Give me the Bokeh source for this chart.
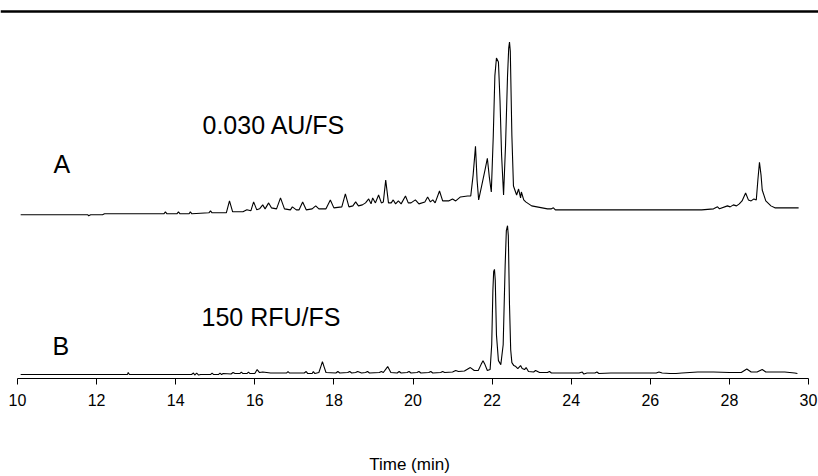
from bokeh.plotting import figure
from bokeh.models import Range1d, FixedTicker, Span, Label
from bokeh.embed import file_html
from bokeh.resources import INLINE

# ---------------- data ----------------
# Trace A: UV absorbance (relative response above trace baseline)
time_a = [10.08, 11.78, 11.80, 11.85, 12.15, 12.20, 13.70, 13.74, 13.78, 14.03, 14.07, 14.11,
          14.34, 14.37, 14.41, 14.84, 14.88, 14.92, 15.28, 15.36, 15.44, 15.70, 15.80, 15.90,
          15.97, 16.05, 16.12, 16.20, 16.26, 16.35, 16.42, 16.55, 16.65, 16.75, 16.90, 16.95,
          17.05, 17.12, 17.21, 17.30, 17.45, 17.54, 17.62, 17.80, 17.91, 18.00, 18.20, 18.29,
          18.38, 18.48, 18.55, 18.62, 18.72, 18.80, 18.88, 18.94, 18.98, 19.05, 19.13, 19.20,
          19.25, 19.31, 19.38, 19.45, 19.50, 19.56, 19.63, 19.70, 19.81, 19.88, 19.95, 20.06,
          20.15, 20.30, 20.37, 20.44, 20.50, 20.56, 20.67, 20.75, 20.90, 21.00, 21.08, 21.20,
          21.38, 21.46, 21.52, 21.58, 21.62, 21.66, 21.74, 21.82, 21.88, 21.93, 21.98, 22.03,
          22.07, 22.11, 22.16, 22.20, 22.24, 22.29, 22.34, 22.39, 22.42, 22.44, 22.46, 22.50,
          22.54, 22.62, 22.67, 22.72, 22.74, 22.80, 22.85, 23.00, 23.40, 23.50, 23.55, 23.60,
          27.30, 27.60, 27.70, 27.75, 27.95, 28.02, 28.10, 28.18, 28.25, 28.32, 28.41, 28.48,
          28.55, 28.62, 28.68, 28.72, 28.76, 28.80, 28.83, 28.92, 29.05, 29.15, 29.75]
signal_a = [0, 0, -1, 0, 0, 1, 1, 3, 1, 1, 3, 1,
            1, 3, 1, 2, 4, 2, 2, 14, 3, 3, 5, 4,
            13, 5, 6, 10, 6, 12, 7, 6, 17, 6, 5, 8,
            5, 5, 13, 5, 6, 9, 6, 6, 15, 7, 8, 21,
            8, 9, 13, 9, 10, 12, 16, 11, 17, 12, 20, 12,
            13, 35, 12, 12, 15, 11, 14, 11, 19, 12, 12, 15,
            11, 13, 18, 13, 15, 12, 24, 14, 14, 16, 14, 18,
            19, 19, 40, 69, 35, 15, 30, 45, 57, 38, 23, 80,
            140, 158, 154, 115, 60, 20, 70, 140, 168, 174, 165, 80,
            29, 20, 26, 17, 23, 15, 13, 9, 6, 6, 7, 5,
            5, 6, 8, 6, 9, 8, 10, 9, 11, 14, 22, 15,
            14, 16, 15, 35, 53, 40, 25, 14, 9, 7, 7]

# Trace B: fluorescence (relative response above trace baseline)
time_b = [10.08, 12.78, 12.80, 12.83, 14.40, 14.45, 14.48, 14.53, 14.58, 14.63, 14.88, 14.92,
          14.96, 15.08, 15.12, 15.16, 15.20, 15.40, 15.45, 15.50, 15.62, 15.66, 15.70, 15.80,
          15.84, 15.88, 16.00, 16.06, 16.12, 16.20, 16.30, 16.40, 16.60, 16.80, 16.84, 16.88,
          17.25, 17.30, 17.34, 17.45, 17.48, 17.52, 17.62, 17.67, 17.71, 17.75, 17.80, 18.05,
          18.10, 18.15, 18.35, 18.40, 18.45, 18.55, 18.60, 18.70, 18.80, 18.85, 18.90, 19.15,
          19.20, 19.25, 19.36, 19.44, 19.60, 19.65, 19.70, 19.85, 19.90, 19.95, 20.10, 20.15,
          20.20, 20.40, 20.45, 20.50, 20.70, 20.75, 20.80, 21.00, 21.08, 21.15, 21.30, 21.45,
          21.55, 21.65, 21.72, 21.77, 21.82, 21.88, 21.95, 21.99, 22.02, 22.04, 22.06, 22.08,
          22.11, 22.16, 22.22, 22.28, 22.33, 22.36, 22.39, 22.41, 22.44, 22.47, 22.50, 22.55,
          22.60, 22.65, 22.72, 22.76, 22.82, 22.86, 22.92, 23.05, 23.10, 23.20, 23.40, 23.45,
          23.50, 24.20, 24.28, 24.32, 24.40, 24.60, 24.65, 24.70, 25.00, 26.15, 26.22, 26.30,
          26.50, 26.65, 26.80, 27.20, 27.60, 28.00, 28.30, 28.44, 28.55, 28.70, 28.83, 28.92,
          29.40, 29.65, 29.72]
signal_b = [0, 0, 2, 0, 0, 1.5, -0.5, 1.5, -0.5, 0, 0, 1.5,
            0, 0, 1.5, 0, 1, 0.5, 2, 1, 1, 2.5, 1, 1,
            2.5, 1, 1, 5, 2, 2.5, 2, 1.5, 1.5, 1.5, 3, 1.5,
            1.5, 3, 1, 1, 3, 1, 2, 8, 13, 8, 2, 1.5,
            3, 1.5, 2, 3, 1.5, 2, 3, 1.5, 2, 3, 1.5, 2,
            3, 2, 8, 2, 1.5, 3, 1.5, 2, 3, 1.5, 2, 3,
            1.5, 2, 3, 1.5, 2, 3, 2, 2.5, 4, 3, 3.5, 7,
            4, 4, 10, 14, 10, 4, 5, 30, 85, 104, 106, 95,
            40, 14, 10, 30, 110, 145, 150, 140, 70, 25, 12, 9,
            8, 6, 9, 6, 5, 7, 3, 2.5, 4, 2, 2, 3,
            1.5, 1.5, 2.5, 0.5, 1.5, 1.5, 2.5, 1, 1.5, 1.5, 2.5, 1.5,
            1, 1, 1.5, 2.5, 2.5, 2, 2, 5.5, 2.5, 2.5, 5, 2.5,
            2.5, 1.5, 1]

x_ticks = [10, 12, 14, 16, 18, 20, 22, 24, 26, 28, 30]
label_a = "A"
scale_a = "0.030 AU/FS"
label_b = "B"
scale_b = "150 RFU/FS"
x_title = "Time (min)"

# ---------------- layout ----------------
W, H = 818, 476
FRAME_H = 381                 # axis line position (px from top)
X0, X1 = 9.5702, 30.2528      # visible time range (10 at px 17, 30 at px 808)
OFFSET_A = 165                # stacking offset of trace A
OFFSET_B = 4                  # stacking offset of trace B
FONT = "Liberation Sans"


def dx(px):
    return X0 + px * (X1 - X0) / W


def dy(py):
    return FRAME_H - py


p = figure(width=W, height=H, x_range=Range1d(X0, X1), y_range=Range1d(0, FRAME_H),
           output_backend="svg", toolbar_location=None, y_axis_location=None,
           min_border_left=0, min_border_right=0, min_border_top=0,
           min_border_bottom=H - FRAME_H)
p.outline_line_color = None
p.xgrid.visible = False
p.ygrid.visible = False
p.background_fill_color = "white"
p.border_fill_color = "white"

p.line(time_a, [OFFSET_A + v for v in signal_a], line_color="black", line_width=1.1)
p.line(time_b, [OFFSET_B + v for v in signal_b], line_color="black", line_width=1.1)

# top rule
p.add_layout(Span(location=dy(11), dimension="width", line_color="black", line_width=2.5))

for txt, px, py in [(scale_a, 202, 125), (label_a, 53, 165), (scale_b, 201, 319), (label_b, 52, 348)]:
    p.add_layout(Label(x=dx(px), y=dy(py), text=txt, text_font=FONT, text_font_size="25px",
                       text_color="black", text_align="left", text_baseline="middle"))

ax = p.xaxis[0]
ax.ticker = FixedTicker(ticks=x_ticks)
ax.bounds = (10, 30)
ax.major_tick_in = 0
ax.major_tick_out = 6
ax.minor_tick_in = 0
ax.minor_tick_out = 0
ax.axis_line_color = "black"
ax.major_tick_line_color = "black"
ax.major_label_text_font = FONT
ax.major_label_text_font_size = "16px"
ax.major_label_text_color = "black"
ax.major_label_standoff = 9
ax.axis_label = x_title
ax.axis_label_text_font = FONT
ax.axis_label_text_font_size = "17px"
ax.axis_label_text_font_style = "normal"
ax.axis_label_text_color = "black"
ax.axis_label_standoff = 46

open("out.html", "w").write(file_html(p, INLINE))
